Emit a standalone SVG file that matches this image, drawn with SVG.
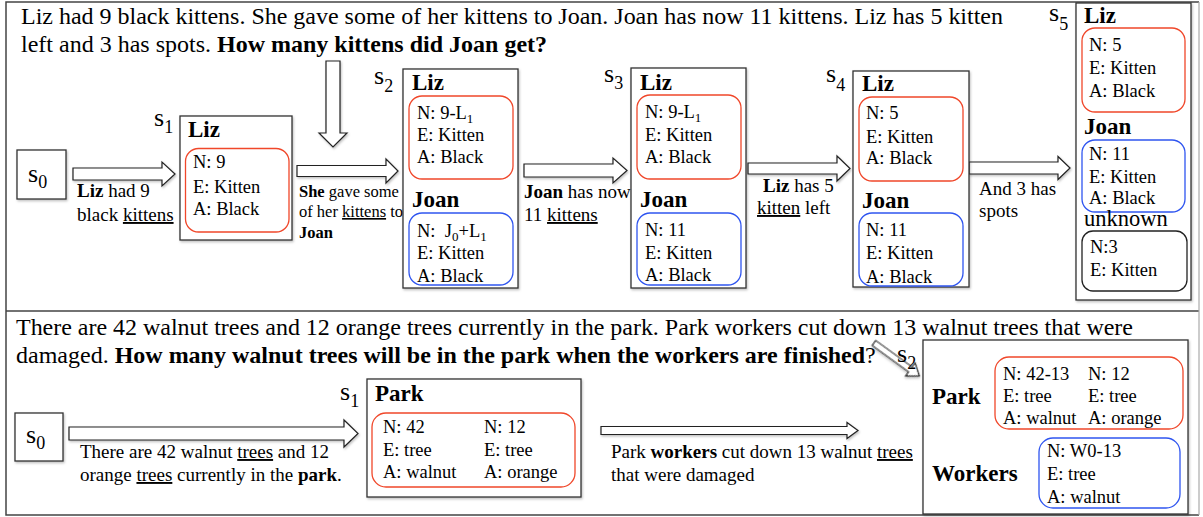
<svg xmlns="http://www.w3.org/2000/svg" width="1203" height="517" viewBox="0 0 1203 517">
<style>
.t{font-family:"Liberation Serif","Times New Roman",serif;fill:#000}
.title{font-size:24px}
.lbl{font-size:19px}
.lbls{font-size:16.5px}
.attr{font-size:18.5px}
.hdr{font-size:23px;font-weight:bold}
.s{font-size:26px}
.sub{font-size:18px}
.b{font-weight:bold}
.u{text-decoration:underline}
.panel{fill:none;stroke:#444;stroke-width:1.5}
.box{fill:#fff;stroke:#333;stroke-width:1.3;filter:url(#sh)}
.red{fill:none;stroke:#f0472a;stroke-width:1.3}
.blue{fill:none;stroke:#2f55f0;stroke-width:1.3}
.blk{fill:none;stroke:#222;stroke-width:1.3}
.arr{fill:#fff;stroke:#222;stroke-width:1.2;filter:url(#sh)}
</style>
<defs>
<filter id="sh" x="-10%" y="-10%" width="130%" height="130%">
<feDropShadow dx="1" dy="1.5" stdDeviation="1.2" flood-color="#000" flood-opacity="0.25"/>
</filter>
</defs>
<rect x="0" y="0" width="1203" height="517" fill="#fff"/>
<path class="panel" d="M1199,2 H6 V311 H1199 M6,311 V515 H1199"/>
<path d="M1199,2 V515" fill="none" stroke="#aaa" stroke-width="1.2"/>

<g id="title-top">
<text class="t title" x="21" y="24" textLength="982" lengthAdjust="spacing">Liz had 9 black kittens. She gave some of her kittens to Joan. Joan has now 11 kittens. Liz has 5 kitten</text>
<text class="t title" x="21" y="52">left and 3 has spots. <tspan class="b">How many kittens did Joan get?</tspan></text>
</g>

<g id="connectors">
<polygon class="arr" points="73,168 162,168 162,162 175,174 162,186 162,180 73,180"/>
<polygon class="arr" points="297,165.5 386,165.5 386,159 398,171 386,183 386,176.5 297,176.5"/>
<polygon class="arr" points="326,61 340,61 340,133 347,133 333,147 319,133 326,133"/>
<polygon class="arr" points="524,164 613,164 613,158 627,170.5 613,183 613,177 524,177"/>
<polygon class="arr" points="748,163 837,163 837,156 850,168.5 837,181 837,174 748,174"/>
<polygon class="arr" points="969,162 1058,162 1058,156.5 1070,168 1058,179.5 1058,174 969,174"/>
<polygon class="arr" points="69,427 344,427 344,420 358,433.5 344,447 344,440 69,440"/>
<polygon class="arr" points="601,426.5 847,426.5 847,422.5 858,430.5 847,438.5 847,434.5 601,434.5"/>
<g transform="translate(874,343) rotate(36)">
<polygon class="arr" points="0,-3 45,-3 45,-8 56,0 45,8 45,3 0,3"/>
</g>
</g>

<g id="labels-top">
<text class="t lbl" x="77" y="197"><tspan class="b">Liz</tspan> had 9</text>
<text class="t lbl" x="77" y="221">black <tspan class="u">kittens</tspan></text>
<text class="t lbls" x="299" y="197"><tspan class="b">She</tspan> gave some</text>
<text class="t lbls" x="299" y="217">of her <tspan class="u">kittens</tspan> to</text>
<text class="t lbls b" x="299" y="238">Joan</text>
<text class="t lbl" x="524" y="198"><tspan class="b">Joan</tspan> has now</text>
<text class="t lbl" x="524" y="221">11 <tspan class="u">kittens</tspan></text>
<text class="t lbl" x="763" y="192"><tspan class="b">Liz</tspan> has 5</text>
<text class="t lbl" x="757" y="214"><tspan class="u">kitten</tspan> left</text>
<text class="t lbl" x="979" y="195">And 3 has</text>
<text class="t lbl" x="979" y="217">spots</text>
</g>

<g id="s0-top">
<rect class="box" x="17" y="150" width="49" height="49"/>
<text class="t s" x="28" y="182">s<tspan class="sub" dy="6">0</tspan></text>
</g>

<g id="s1-top">
<text class="t s" x="154" y="126">s<tspan class="sub" dy="7">1</tspan></text>
<rect class="box" x="180" y="116" width="112" height="124"/>
<text class="t hdr" x="188" y="137">Liz</text>
<rect class="red" x="185.5" y="148.5" width="103.5" height="83.5" rx="13"/>
<text class="t attr" x="193" y="168">N: 9</text>
<text class="t attr" x="193" y="193">E: Kitten</text>
<text class="t attr" x="193" y="215">A: Black</text>
</g>

<g id="s2-top">
<text class="t s" x="374" y="84">s<tspan class="sub" dy="8">2</tspan></text>
<rect class="box" x="403" y="69" width="115" height="219"/>
<text class="t hdr" x="412" y="90">Liz</text>
<rect class="red" x="409" y="96" width="104" height="83" rx="13"/>
<text class="t attr" x="417" y="119">N: 9-L<tspan font-size="13" dy="4">1</tspan></text>
<text class="t attr" x="417" y="141">E: Kitten</text>
<text class="t attr" x="417" y="163">A: Black</text>
<text class="t hdr" x="412" y="207">Joan</text>
<rect class="blue" x="409" y="213" width="104" height="72" rx="13"/>
<text class="t attr" x="417" y="237" xml:space="preserve">N:  J<tspan font-size="13" dy="4">0</tspan><tspan dy="-4">+L</tspan><tspan font-size="13" dy="4">1</tspan></text>
<text class="t attr" x="417" y="259">E: Kitten</text>
<text class="t attr" x="417" y="282">A: Black</text>
</g>

<g id="s3-top">
<text class="t s" x="604" y="82">s<tspan class="sub" dy="7">3</tspan></text>
<rect class="box" x="631" y="68" width="115" height="220"/>
<text class="t hdr" x="640" y="90">Liz</text>
<rect class="red" x="637" y="95" width="104" height="84" rx="13"/>
<text class="t attr" x="645" y="118">N: 9-L<tspan font-size="13" dy="4">1</tspan></text>
<text class="t attr" x="645" y="141">E: Kitten</text>
<text class="t attr" x="645" y="163">A: Black</text>
<text class="t hdr" x="640" y="207">Joan</text>
<rect class="blue" x="637" y="213" width="104" height="72" rx="13"/>
<text class="t attr" x="645" y="236">N: 11</text>
<text class="t attr" x="645" y="259">E: Kitten</text>
<text class="t attr" x="645" y="281">A: Black</text>
</g>

<g id="s4-top">
<text class="t s" x="826" y="82">s<tspan class="sub" dy="9">4</tspan></text>
<rect class="box" x="853" y="71" width="116" height="216"/>
<text class="t hdr" x="862" y="91">Liz</text>
<rect class="red" x="859" y="97" width="104" height="84" rx="13"/>
<text class="t attr" x="866" y="119">N: 5</text>
<text class="t attr" x="866" y="143">E: Kitten</text>
<text class="t attr" x="866" y="164">A: Black</text>
<text class="t hdr" x="862" y="208">Joan</text>
<rect class="blue" x="859" y="213" width="104" height="73" rx="13"/>
<text class="t attr" x="866" y="236">N: 11</text>
<text class="t attr" x="866" y="259">E: Kitten</text>
<text class="t attr" x="866" y="283">A: Black</text>
</g>

<g id="s5-top">
<text class="t s" x="1049" y="21">s<tspan class="sub" dy="9">5</tspan></text>
<rect class="box" x="1076" y="3" width="115" height="297"/>
<text class="t hdr" x="1084" y="23">Liz</text>
<rect class="red" x="1082" y="28" width="103" height="84" rx="13"/>
<text class="t attr" x="1089" y="51">N: 5</text>
<text class="t attr" x="1089" y="74">E: Kitten</text>
<text class="t attr" x="1089" y="97">A: Black</text>
<text class="t hdr" x="1084" y="134">Joan</text>
<rect class="blue" x="1082" y="140" width="103" height="72" rx="13"/>
<text class="t attr" x="1089" y="160">N: 11</text>
<text class="t attr" x="1089" y="183">E: Kitten</text>
<text class="t attr" x="1089" y="204">A: Black</text>
<text class="t" font-size="22.5" x="1084" y="226">unknown</text>
<rect class="blk" x="1082" y="231" width="105" height="60" rx="11"/>
<text class="t attr" x="1090" y="253">N:3</text>
<text class="t attr" x="1090" y="276">E: Kitten</text>
</g>

<g id="title-bottom">
<text class="t title" x="16" y="335" textLength="1117" lengthAdjust="spacing">There are 42 walnut trees and 12 orange trees currently in the park. Park workers cut down 13 walnut trees that were</text>
<text class="t title" x="16" y="363">damaged. <tspan class="b">How many walnut trees will be in the park when the workers are finished</tspan>?</text>
</g>

<g id="labels-bottom">
<text class="t lbl" x="80" y="458">There are 42 walnut <tspan class="u">trees</tspan> and 12</text>
<text class="t lbl" x="80" y="481">orange <tspan class="u">trees</tspan> currently in the <tspan class="b">park</tspan>.</text>
<text class="t lbl" x="611" y="458">Park <tspan class="b">workers</tspan> cut down 13 walnut <tspan class="u">trees</tspan></text>
<text class="t lbl" x="611" y="481">that were damaged</text>
</g>

<g id="s0-bottom">
<rect class="box" x="15" y="413" width="48" height="48"/>
<text class="t s" x="26" y="443">s<tspan class="sub" dy="6">0</tspan></text>
</g>

<g id="s1-bottom">
<text class="t s" x="340" y="400">s<tspan class="sub" dy="7">1</tspan></text>
<rect class="box" x="367" y="379" width="214" height="118"/>
<text class="t hdr" x="375" y="401">Park</text>
<rect class="red" x="372" y="413" width="203" height="74" rx="14"/>
<text class="t attr" x="383" y="433">N: 42</text>
<text class="t attr" x="383" y="456">E: tree</text>
<text class="t attr" x="383" y="478">A: walnut</text>
<text class="t attr" x="484" y="433">N: 12</text>
<text class="t attr" x="484" y="456">E: tree</text>
<text class="t attr" x="484" y="478">A: orange</text>
</g>

<g id="s2-bottom">
<text class="t s" x="897" y="362">s<tspan class="sub" dy="7">2</tspan></text>
<rect class="box" x="923" y="340" width="265" height="174"/>
<text class="t hdr" x="932" y="404">Park</text>
<rect class="red" x="995" y="357" width="188" height="72" rx="14"/>
<text class="t attr" x="1003" y="380">N: 42-13</text>
<text class="t attr" x="1003" y="402">E: tree</text>
<text class="t attr" x="1003" y="424">A: walnut</text>
<text class="t attr" x="1088" y="380">N: 12</text>
<text class="t attr" x="1088" y="402">E: tree</text>
<text class="t attr" x="1088" y="424">A: orange</text>
<text class="t hdr" x="932" y="481">Workers</text>
<rect class="blue" x="1039" y="438" width="141" height="70" rx="14"/>
<text class="t attr" x="1047" y="457">N: W0-13</text>
<text class="t attr" x="1047" y="480">E: tree</text>
<text class="t attr" x="1047" y="503">A: walnut</text>
</g>
</svg>
